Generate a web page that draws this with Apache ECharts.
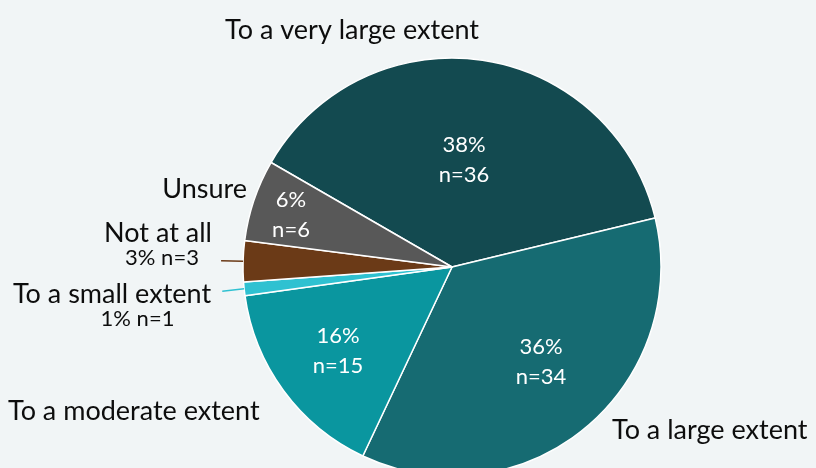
<!DOCTYPE html>
<html><head><meta charset="utf-8">
<script src="https://cdn.jsdelivr.net/npm/echarts@6/dist/echarts.min.js"></script>
<style>html,body{margin:0;padding:0;background:#f1f5f6}#c{width:816px;height:468px}</style>
</head><body><div id="c"></div>
<script>
const categories = ['To a very large extent','To a large extent','To a moderate extent','To a small extent','Not at all','Unsure'];
const counts = [36, 34, 15, 1, 3, 6];
const percents = [38, 36, 16, 1, 3, 6];
const colors = ['#134a50','#166b72','#0a969f','#2fc1d1','#6b3a17','#585858'];

const FONT = 'Lato';
const insideIdx = [0,1,2,5];
const leaderIdx = [3,4];
// label anchor positions (text, not marks)
const insidePos = {0:[464,160],1:[541,362],2:[338,351],5:[291,215]};
const outsidePos = {
  0:{x:352,y:30,align:'center'},
  1:{x:612,y:430,align:'left'},
  2:{x:8,y:411,align:'left'},
  3:{x:112,y:305,align:'center'},
  4:{x:158,y:244,align:'center'},
  5:{x:247,y:189,align:'right'}
};

const sliceData = categories.map((c,i)=>({name:c, value:counts[i], itemStyle:{color:colors[i]}}));
const base = {type:'pie', center:[452,267], radius:209, startAngle:150, clockwise:true, avoidLabelOverlap:false, emphasis:{disabled:true}, silent:true};

const chart = echarts.init(document.getElementById('c'), null, {renderer:'canvas'});
chart.setOption({
  backgroundColor:'#f1f5f6',
  animation:false,
  series:[
    Object.assign({}, base, {
      itemStyle:{borderColor:'#ffffff', borderWidth:1.5},
      data: sliceData.map((d,i)=>Object.assign({}, d, {
        label: insideIdx.includes(i) ? {show:true, position:'inside'} : {show:false},
      })),
      label:{
        fontFamily:FONT, fontSize:22, color:'#ffffff', lineHeight:30,
        formatter:p=>percents[p.dataIndex]+'%\nn='+counts[p.dataIndex]
      },
      labelLine:{show:false},
      labelLayout:p=>{const q=insidePos[p.dataIndex]; return q?{x:q[0],y:q[1],align:'center',verticalAlign:'middle'}:{};}
    }),
    Object.assign({}, base, {
      z:3,
      data: sliceData.map((d,i)=>({name:d.name, value:d.value, itemStyle:{color:'rgba(0,0,0,0)'}})),
      label:{
        show:true, position:'outside', fontFamily:FONT, fontSize:27, color:'#0d0d0d',
        formatter:p=>{
          const i=p.dataIndex;
          if(i===3) return '{a|'+p.name+'}\n{b|'+percents[i]+'% n='+counts[i]+'}';
          if(i===4) return '{a|'+p.name+'}\n{c|'+percents[i]+'% n='+counts[i]+'}';
          return p.name;
        },
        rich:{
          a:{fontFamily:FONT, fontSize:27, color:'#0d0d0d', lineHeight:28},
          b:{fontFamily:FONT, fontSize:22, color:'#0d0d0d', lineHeight:22, padding:[0,0,0,51]},
          c:{fontFamily:FONT, fontSize:22, color:'#0d0d0d', lineHeight:22, padding:[0,0,0,8]}
        }
      },
      labelLine:{show:false},
      labelLayout:p=>{const q=outsidePos[p.dataIndex]; return {x:q.x,y:q.y,align:q.align,verticalAlign:'middle'};}
    }),
    Object.assign({}, base, {
      z:4,
      data: sliceData.map((d,i)=>({name:d.name, value:d.value, itemStyle:{color:'rgba(0,0,0,0)'},
        label:{show:leaderIdx.includes(i)},
        labelLine:{show:leaderIdx.includes(i), lineStyle:{color:colors[i], width:1.5}}
      })),
      label:{position:'outside', formatter:' ', color:'rgba(0,0,0,0)', fontSize:10},
      labelLine:{length:22, length2:0, smooth:false}
    })
  ]
});
</script></body></html>
